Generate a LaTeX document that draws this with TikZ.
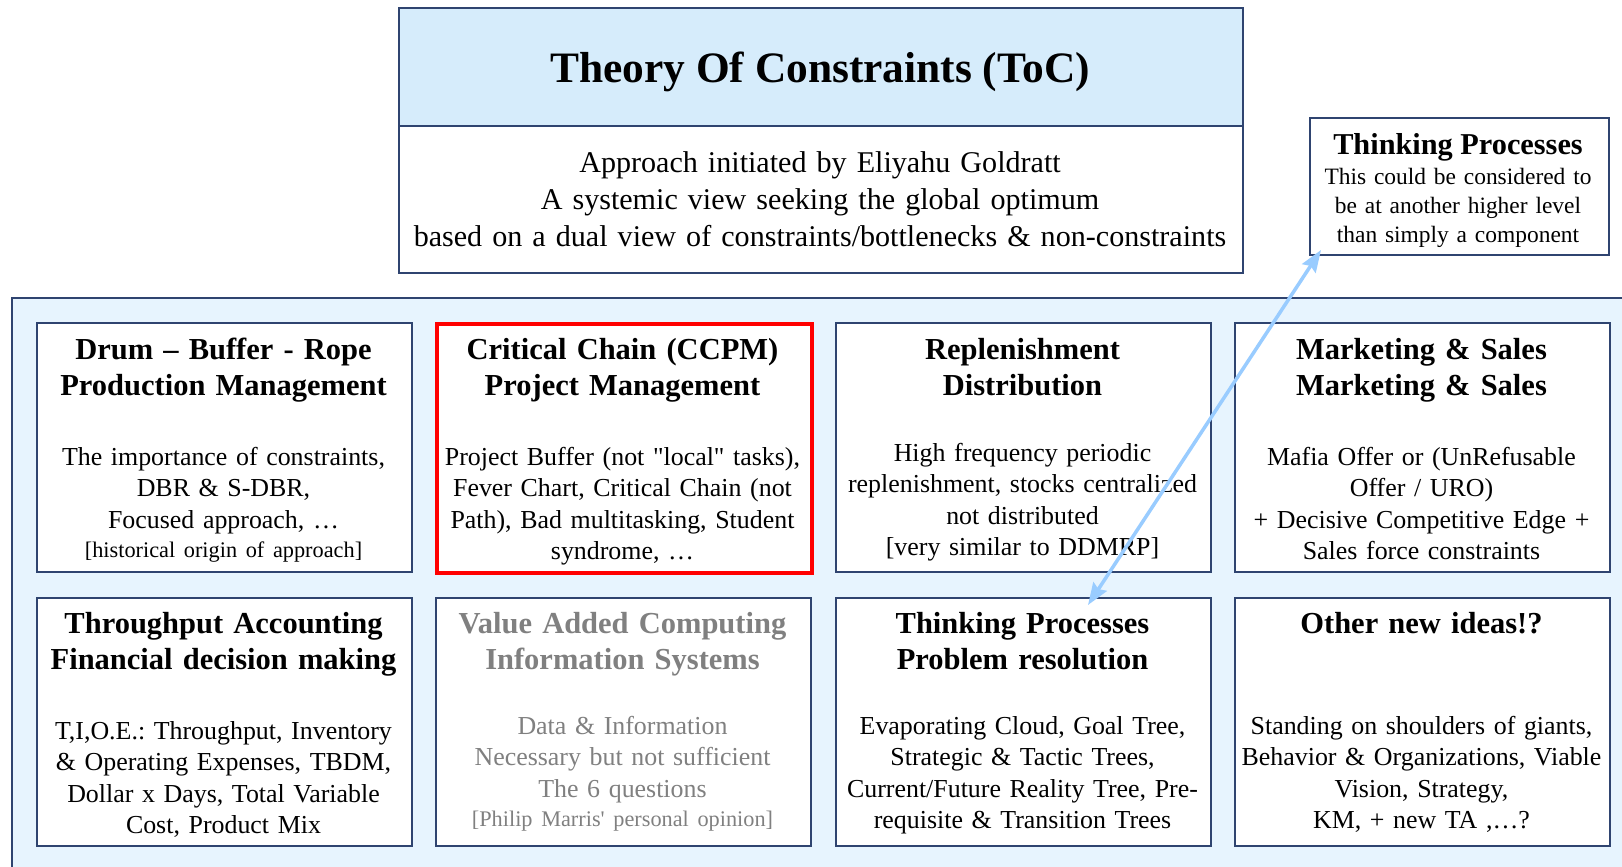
\documentclass[tikz,border=0pt]{standalone}
\usepackage{fontspec}
\setmainfont{Liberation Serif}
\usetikzlibrary{arrows.meta,calc}
\definecolor{navy}{RGB}{47,68,112}
\definecolor{titlefill}{RGB}{214,236,251}
\definecolor{panelfill}{RGB}{231,244,254}
\definecolor{arrowblue}{RGB}{153,204,255}
\definecolor{grayt}{RGB}{128,128,128}
\newcommand{\smallline}[1]{{\fontsize{22.3}{28}\selectfont #1}}
\frenchspacing
\begin{document}
\begin{tikzpicture}[x=1pt,y=-1pt,
  cell/.style={draw=navy,line width=2pt,fill=white,minimum width=375pt,minimum height=249pt,anchor=north west,inner sep=0pt},
  redcell/.style={cell,draw=red,line width=4pt},
  ttl/.style={anchor=base,text width=400pt,align=center,inner sep=0pt,font=\fontsize{30.5}{36}\selectfont\bfseries},
  bdy/.style={anchor=base,text width=420pt,align=center,inner sep=0pt,font=\fontsize{25.9}{31.5}\selectfont},
  faded/.style={text=grayt}]
\useasboundingbox (0,0) rectangle (1622,867);
\clip (0,0) rectangle (1622,867);
\fill[white] (0,0) rectangle (1622,867);
% panel
\node[draw=navy,line width=2pt,fill=panelfill,minimum width=1650pt,minimum height=620pt,anchor=north west,inner sep=0pt] (panel) at (11,297) {};
% top title box
\node[draw=navy,line width=2pt,fill=titlefill,minimum width=844pt,minimum height=118pt,anchor=north west,inner sep=0pt] (tochead) at (398,7) {};
\node[draw=navy,line width=2pt,fill=white,minimum width=844pt,minimum height=147pt,anchor=north west,inner sep=0pt] (tocdesc) at (398,125) {};
\node[anchor=base,inner sep=0pt,font=\fontsize{43.4}{50}\selectfont\bfseries] (toctitle) at (820,82) {Theory Of Constraints (ToC)};
\node[anchor=base,text width=840pt,align=center,inner sep=0pt,font=\fontsize{30.1}{37}\selectfont] (tocbody) at (820,172)
  {Approach initiated by Eliyahu Goldratt\\A systemic view seeking the global optimum\\based on a dual view of constraints/bottlenecks \& non-constraints};
% thinking processes box
\node[draw=navy,line width=2pt,fill=white,minimum width=299pt,minimum height=137pt,anchor=north west,inner sep=0pt] (tpbox) at (1309,117) {};
\node[anchor=base,inner sep=0pt,font=\fontsize{30.3}{36}\selectfont\bfseries] (tptitle) at (1458,154) {Thinking Processes};
\node[anchor=base,text width=320pt,align=center,inner sep=0pt,font=\fontsize{23.45}{29}\selectfont] (tpbody) at (1458,184)
  {This could be considered to\\be at another higher level\\than simply a component};
% row 1
\node[cell] (c11) at (36,322) {};
\node[redcell] (c12) at (435,322) {};
\node[cell] (c13) at (835,322) {};
\node[cell] (c14) at (1234,322) {};
% row 2
\node[cell,minimum height=248pt] (c21) at (36,597) {};
\node[cell,minimum height=248pt] (c22) at (435,597) {};
\node[cell,minimum height=248pt] (c23) at (835,597) {};
\node[cell,minimum height=248pt] (c24) at (1234,597) {};
% row 1 texts
\node[ttl] (t11) at (223.5,359) {Drum – Buffer - Rope\\Production Management};
\node[bdy] (b11) at (223.5,465) {The importance of constraints,\\DBR \& S-DBR,\\Focused approach, …\\[-2pt]\smallline{[historical origin of approach]}};
\node[ttl] (t12) at (622.5,359) {Critical Chain (CCPM)\\Project Management};
\node[bdy] (b12) at (622.5,465) {Project Buffer (not \textquotedbl local\textquotedbl\ tasks),\\Fever Chart, Critical Chain (not\\Path), Bad multitasking, Student\\syndrome, …};
\node[ttl] (t13) at (1022.5,359) {Replenishment\\Distribution};
\node[bdy] (b13) at (1022.5,461) {High frequency periodic\\replenishment, stocks centralized\\not distributed\\{}[very similar to DDMRP]};
\node[ttl] (t14) at (1421.5,359) {Marketing \& Sales\\Marketing \& Sales};
\node[bdy] (b14) at (1421.5,465) {Mafia Offer or (UnRefusable\\Offer / URO)\\+ Decisive Competitive Edge +\\Sales force constraints};
% row 2 texts
\node[ttl] (t21) at (223.5,633) {Throughput Accounting\\Financial decision making};
\node[bdy] (b21) at (223.5,739) {T,I,O.E.: Throughput, Inventory\\\& Operating Expenses, TBDM,\\Dollar x Days, Total Variable\\Cost, Product Mix};
\node[ttl,faded] (t22) at (622.5,633) {Value Added Computing\\Information Systems};
\node[bdy,faded] (b22) at (622.5,734) {Data \& Information\\Necessary but not sufficient\\The 6 questions\\[-2pt]\smallline{[Philip Marris\textquotesingle\ personal opinion]}};
\node[ttl] (t23) at (1022.5,633) {Thinking Processes\\Problem resolution};
\node[bdy] (b23) at (1022.5,734) {Evaporating Cloud, Goal Tree,\\Strategic \& Tactic Trees,\\Current/Future Reality Tree, Pre-\\requisite \& Transition Trees};
\node[ttl] (t24) at (1421.5,633) {Other new ideas!?};
\node[bdy] (b24) at (1421.5,734) {Standing on shoulders of giants,\\Behavior \& Organizations, Viable\\Vision, Strategy,\\KM, + new TA ,…?};
% arrow
\draw[arrowblue,line width=3.5pt,{Stealth[length=22pt,width=16pt,inset=3pt]}-{Stealth[length=22pt,width=16pt,inset=3pt]}]
  ($(c23.north west)+(253,8)$) -- ($(tpbox.south west)+(12,-6)$);
\end{tikzpicture}
\end{document}
